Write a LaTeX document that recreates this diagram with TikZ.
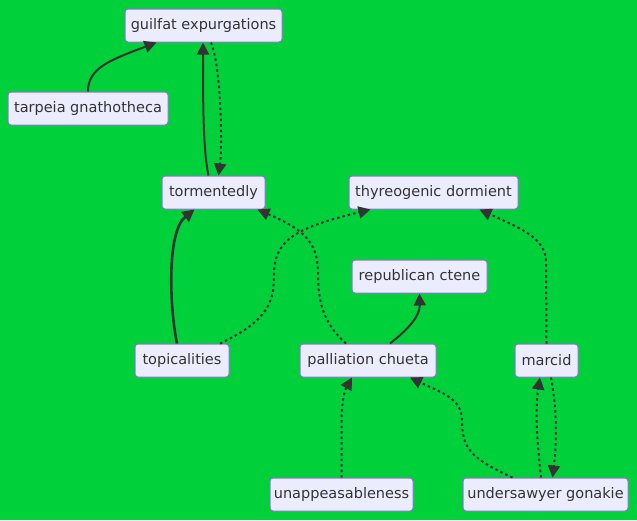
\documentclass[tikz,border=0pt]{standalone}
\usepackage{fontspec}
\setmainfont{DejaVu Sans}
\usetikzlibrary{arrows.meta}
\definecolor{bg}{RGB}{0,208,58}
\definecolor{nodefill}{HTML}{ECECFF}
\definecolor{nodeborder}{HTML}{9370DB}
\definecolor{ink}{HTML}{333333}
\tikzset{
  box/.style={draw=nodeborder, fill=nodefill, line width=1pt, rounded corners=3pt,
    text=ink, font=\fontsize{14.5}{17}\selectfont, inner sep=0pt, minimum height=33pt},
  link/.style={draw=ink, line width=2pt, -{Triangle[length=12pt,width=12pt]}},
  dlink/.style={link, dash pattern=on 2.5pt off 3pt},
}
\begin{document}
\begin{tikzpicture}[x=1pt,y=-1pt]
\fill[bg] (0,0) rectangle (637,520);
\useasboundingbox (0,0) rectangle (637,520);
\node[box, minimum width=157pt] (g) at (203.5,25.5) {guilfat expurgations};
\node[box, minimum width=160pt] (tg) at (88,108.5) {tarpeia gnathotheca};
\node[box, minimum width=103pt] (tm) at (213.5,192.5) {tormentedly};
\node[box, minimum width=169pt] (th) at (433.5,192.5) {thyreogenic dormient};
\node[box, minimum width=135pt] (rc) at (419.5,276.5) {republican ctene};
\node[box, minimum width=94pt] (tp) at (182,360.5) {topicalities};
\node[box, minimum width=136pt] (pc) at (368,360.5) {palliation chueta};
\node[box, minimum width=63pt] (mc) at (546.5,360.5) {marcid};
\node[box, minimum width=143pt] (un) at (341.5,494.5) {unappeasableness};
\node[box, minimum width=165pt] (ug) at (545.5,494.5) {undersawyer gonakie};

% tarpeia -> guilfat
\draw[link] (tg.north) .. controls (88,68) and (110,60) .. ([xshift=-47pt]g.south);
% tormentedly -> guilfat
\draw[link] ([xshift=-5pt]tm.north) .. controls (203,150) and (203,100) .. ([xshift=-0.5pt]g.south);
% guilfat -> tormentedly
\draw[dlink] ([xshift=7.5pt]g.south) .. controls (222,70) and (222,150) .. ([xshift=5pt]tm.north);
% topicalities -> tormentedly
\draw[link, line width=2.6pt] ([xshift=-5pt]tp.north) .. controls (170,310) and (166,232) .. ([xshift=-19pt]tm.south);
% topicalities -> thyreogenic
\draw[dlink] ([xshift=38pt]tp.north) .. controls (270,320) and (274,300) .. (274,275)
  .. controls (274,240) and (295,228) .. ([xshift=-63pt]th.south);
% palliation -> tormentedly
\draw[dlink] ([xshift=-22pt]pc.north) .. controls (322,322) and (318,300) .. (318,272)
  .. controls (318,240) and (300,228) .. ([xshift=44pt]tm.south);
% palliation -> republican
\draw[link] ([xshift=22pt]pc.north) .. controls (410,328) and (420,315) .. (rc.south);
% marcid -> thyreogenic
\draw[dlink] (mc.north) -- (546,262) .. controls (546,238) and (520,228) .. ([xshift=46pt]th.south);
% unappeasableness -> palliation
\draw[dlink] (un.north) -- (341.5,425) .. controls (341.5,400) and (345,390) .. ([xshift=-16pt]pc.south);
% undersawyer -> palliation
\draw[dlink] ([xshift=-33pt]ug.north) .. controls (470,458) and (462,448) .. (462,420)
  .. controls (462,398) and (440,392) .. ([xshift=42pt]pc.south);
% undersawyer -> marcid
\draw[dlink] ([xshift=-4.5pt]ug.north) .. controls (537,440) and (535,410) .. ([xshift=-6.5pt]mc.south);
% marcid -> undersawyer
\draw[dlink] ([xshift=4.5pt]mc.south) .. controls (557,410) and (557,440) .. ([xshift=7pt]ug.north);
\end{tikzpicture}
\end{document}
